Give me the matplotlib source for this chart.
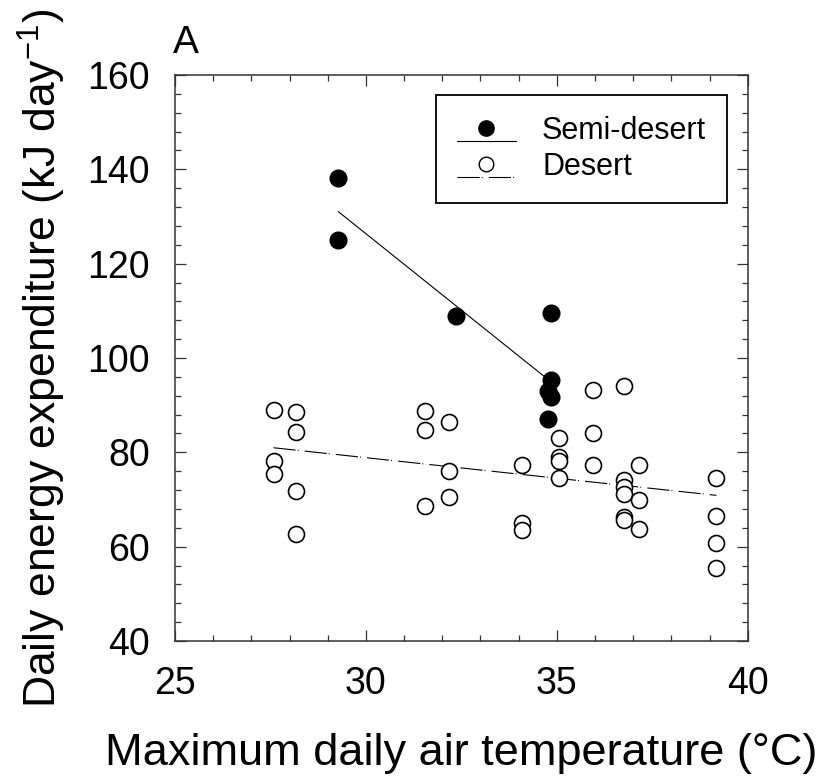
import numpy as np
import matplotlib
matplotlib.use("Agg")
import matplotlib.pyplot as plt
from matplotlib.lines import Line2D
from matplotlib.legend_handler import HandlerBase
from matplotlib.ticker import MultipleLocator

plt.rcParams['font.family'] = ['Liberation Sans', 'DejaVu Sans']
plt.rcParams['mathtext.fontset'] = 'custom'
plt.rcParams['mathtext.rm'] = 'Liberation Sans'
plt.rcParams['mathtext.it'] = 'Liberation Sans:italic'

# semi-desert (filled)
semi_x = [29.28, 29.28, 32.36, 34.86, 34.86, 34.76, 34.86, 34.76]
semi_y = [138.2, 125.0, 108.9, 109.6, 95.3, 92.9, 91.8, 87.0]

# desert (open)
desert_x = [27.58, 27.58, 27.58,
            28.18, 28.18, 28.18, 28.18,
            31.56, 31.56, 31.56,
            32.18, 32.18, 32.18,
            34.08, 34.08, 34.08,
            35.06, 35.06, 35.06, 35.06,
            35.95, 35.95, 35.95,
            36.76, 36.76, 36.76, 36.76, 36.76, 36.76,
            37.16, 37.16, 37.16,
            39.18, 39.18, 39.18, 39.18]
desert_y = [88.9, 78.1, 75.5,
            88.5, 84.3, 71.7, 62.7,
            88.8, 84.7, 68.6,
            86.4, 76.1, 70.6,
            77.4, 65.0, 63.6,
            83.0, 79.1, 78.1, 74.6,
            93.2, 84.2, 77.4,
            94.0, 74.1, 72.7, 71.2, 66.2, 65.6,
            77.3, 69.9, 63.7,
            74.6, 66.4, 60.7, 55.4]

dash_style = (0, (20, 1.8, 0.9, 5.5))


class MarkerOverLine(HandlerBase):
    # marker centred on the row, regression line drawn just under it
    def create_artists(self, legend, orig_handle, xdescent, ydescent,
                       width, height, fontsize, trans):
        mk, ln = orig_handle
        x0 = -xdescent
        yl = -ydescent + height / 2 - 0.43 * fontsize
        line = Line2D([x0, x0 + width], [yl, yl])
        line.update_from(ln)
        line.set_transform(trans)
        dot = Line2D([x0 + width / 2], [-ydescent + height / 2])
        dot.update_from(mk)
        dot.set_transform(trans)
        return [line, dot]


fig = plt.figure(figsize=(8.24, 7.78), dpi=100)
ax = fig.add_axes([0.2124, 0.1761, 0.695, 0.7275])

ax.plot(desert_x, desert_y, 'o', ms=11.5, mfc='white', mec='black', mew=1.2, zorder=3)
ax.plot(semi_x, semi_y, 'o', ms=12, mfc='black', mec='black', zorder=4)

# regression lines over each group's range
for xs, ys, ls in [(semi_x, semi_y, '-'), (desert_x, desert_y, dash_style)]:
    k, b = np.polyfit(xs, ys, 1)
    xx = np.array([min(xs), max(xs)])
    ax.plot(xx, k * xx + b, color='black', lw=0.8, linestyle=ls, zorder=2)

ax.set_xlim(25, 40)
ax.set_ylim(40, 160)
ax.xaxis.set_major_locator(MultipleLocator(5))
ax.xaxis.set_minor_locator(MultipleLocator(1))
ax.yaxis.set_major_locator(MultipleLocator(20))
ax.yaxis.set_minor_locator(MultipleLocator(4))
ax.tick_params(which='both', direction='in', top=True, right=True, width=0.9, color='#333333')
ax.tick_params(which='major', length=8, labelsize=27)
ax.tick_params(axis='x', which='major', pad=18)
ax.tick_params(axis='y', which='major', pad=18)
ax.tick_params(which='minor', length=4.5)
for s in ax.spines.values():
    s.set_linewidth(1.1)
    s.set_color('#333333')

ax.set_xlabel('Maximum daily air temperature (°C)', fontsize=32.5, labelpad=22)
ax.set_ylabel('Daily energy expenditure (kJ day$^{\\mathregular{-1}}$)', fontsize=32, labelpad=14)
ax.text(-0.003, 1.039, 'A', transform=ax.transAxes, fontsize=28, ha='left', va='baseline')

h_semi = (Line2D([], [], marker='o', ls='none', ms=11, mfc='black', mec='black'),
          Line2D([], [], color='black', lw=0.8, ls='-'))
h_des = (Line2D([], [], marker='o', ls='none', ms=10.5, mfc='white', mec='black', mew=1.0),
         Line2D([], [], color='black', lw=0.8, ls=dash_style))
leg = ax.legend([h_semi, h_des], ['Semi-desert', 'Desert'],
                handler_map={tuple: MarkerOverLine()},
                loc='upper right', bbox_to_anchor=(727 / 824, 1 - 95 / 778),
                bbox_transform=fig.transFigure, borderaxespad=0,
                fontsize=22, handlelength=1.95, handletextpad=0.85,
                labelspacing=0.2, borderpad=0.68, fancybox=False,
                framealpha=1, edgecolor='black')
leg.get_frame().set_linewidth(1.3)

fig.savefig('out.png', dpi=100)
